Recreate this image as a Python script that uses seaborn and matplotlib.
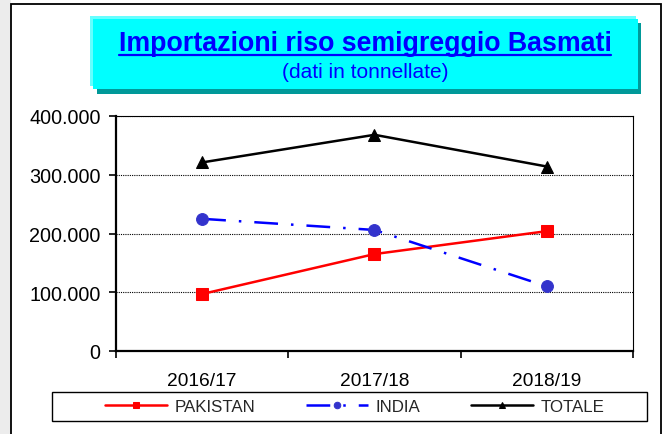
import numpy as np
import pandas as pd
import matplotlib.pyplot as plt
import matplotlib.ticker as mticker
from matplotlib.patches import Rectangle
from matplotlib.lines import Line2D
import seaborn as sns

# Dati (tonnellate)
anni = ["2016/17", "2017/18", "2018/19"]
pakistan = [97000, 165000, 204000]
india = [225000, 206000, 110000]
totale = [321000, 368000, 314000]

sns.set_style("white")
plt.rcParams["font.family"] = ["Liberation Sans", "DejaVu Sans"]

W, H = 663, 435
fig = plt.figure(figsize=(W / 100, H / 100), dpi=100)


def fx(px):
    return px / W


def fy(py):
    return 1 - py / H


def box(x0, y0, x1, y1, **kw):
    r = Rectangle((fx(x0), fy(y1)), (x1 - x0) / W, (y1 - y0) / H,
                  transform=fig.transFigure, **kw)
    fig.add_artist(r)
    return r


# cornice esterna
box(0, 0, 11, H + 5, facecolor="#ececec", edgecolor="none", zorder=0)
box(11, 5, 661, H + 10, facecolor="white", edgecolor="black", lw=1.3, zorder=0)

# riquadro titolo
box(97, 24, 641, 95, facecolor="#009999", edgecolor="none", zorder=1)
box(90, 17, 636, 87, facecolor="#66ffff", edgecolor="none", zorder=1)
box(93, 20, 638, 90, facecolor="#00ffff", edgecolor="none", zorder=1)

titolo = fig.text(fx(365), fy(51), "Importazioni riso semigreggio Basmati",
                  ha="center", va="baseline", fontsize=19.3, fontweight="bold",
                  color="#0000ff", zorder=3)
fig.text(fx(365), fy(78), "(dati in tonnellate)", ha="center", va="baseline",
         fontsize=15, color="#0000ff", zorder=3)

# grafico
ax = fig.add_axes([fx(116), fy(352), (633 - 116) / W, (352 - 117) / H])
ax.set_facecolor("white")

sns.lineplot(x=anni, y=pakistan, ax=ax, color="#ff0000", lw=1.8,
             marker="s", markersize=8.5, markeredgecolor="#ff0000",
             markerfacecolor="#ff0000", label="PAKISTAN", zorder=3)
sns.lineplot(x=anni, y=india, ax=ax, color="#0000ff", lw=1.8,
             linestyle=(0, (9.5, 5.2, 1, 5.2)),
             marker="o", markersize=8.5, markeredgecolor="#3333cc",
             markerfacecolor="#3333cc", label="INDIA", zorder=3)
sns.lineplot(x=anni, y=totale, ax=ax, color="black", lw=1.8,
             marker="^", markersize=9, markeredgecolor="black",
             markerfacecolor="black", label="TOTALE", zorder=3)

ax.set_xlim(-0.5, 2.5)
ax.set_ylim(0, 400000)
ax.set_xlabel("")
ax.set_ylabel("")

ax.yaxis.set_major_locator(mticker.MultipleLocator(100000))
ax.yaxis.set_major_formatter(
    mticker.FuncFormatter(lambda v, p: f"{int(v):,}".replace(",", ".")))
ax.set_xticks([0, 1, 2])
ax.set_xticklabels(anni)
ax.set_xticks([-0.5, 0.5, 1.5, 2.5], minor=True)

ax.tick_params(axis="x", which="major", length=0, pad=15, labelsize=13.8,
               labelcolor="black")
ax.tick_params(axis="x", which="minor", length=5, width=1.2, direction="out",
               color="black", bottom=True)
ax.tick_params(axis="y", which="major", length=5, width=1.2, direction="out",
               color="black", left=True, pad=6, labelsize=14.2,
               labelcolor="black")

ax.yaxis.grid(True, linestyle=(0, (1, 1)), color="black", lw=0.8)
ax.xaxis.grid(False)
for s in ["left", "bottom"]:
    ax.spines[s].set_linewidth(1.6)
    ax.spines[s].set_color("black")
for s in ["top", "right"]:
    ax.spines[s].set_linewidth(0.8)
    ax.spines[s].set_color("black")

handles, labels = ax.get_legend_handles_labels()
ax.get_legend().remove()

# legenda
box(52, 393, 647, 422, facecolor="white", edgecolor="black", lw=1.0, zorder=1)
fig.legend(handles, labels, loc="center", bbox_to_anchor=(fx(355), fy(407.5)),
           ncol=3, frameon=False, fontsize=12.2, handlelength=3.66,
           handletextpad=0.45, columnspacing=3.0, markerscale=0.55,
           borderpad=0.2)

# sottolineatura titolo
fig.canvas.draw()
bb = titolo.get_window_extent(renderer=fig.canvas.get_renderer())
fig.add_artist(Line2D([bb.x0 / W, bb.x1 / W], [fy(55.5), fy(55.5)],
                      transform=fig.transFigure, color="#0000ff", lw=1.6,
                      zorder=3))

fig.savefig("out.png", dpi=100)
